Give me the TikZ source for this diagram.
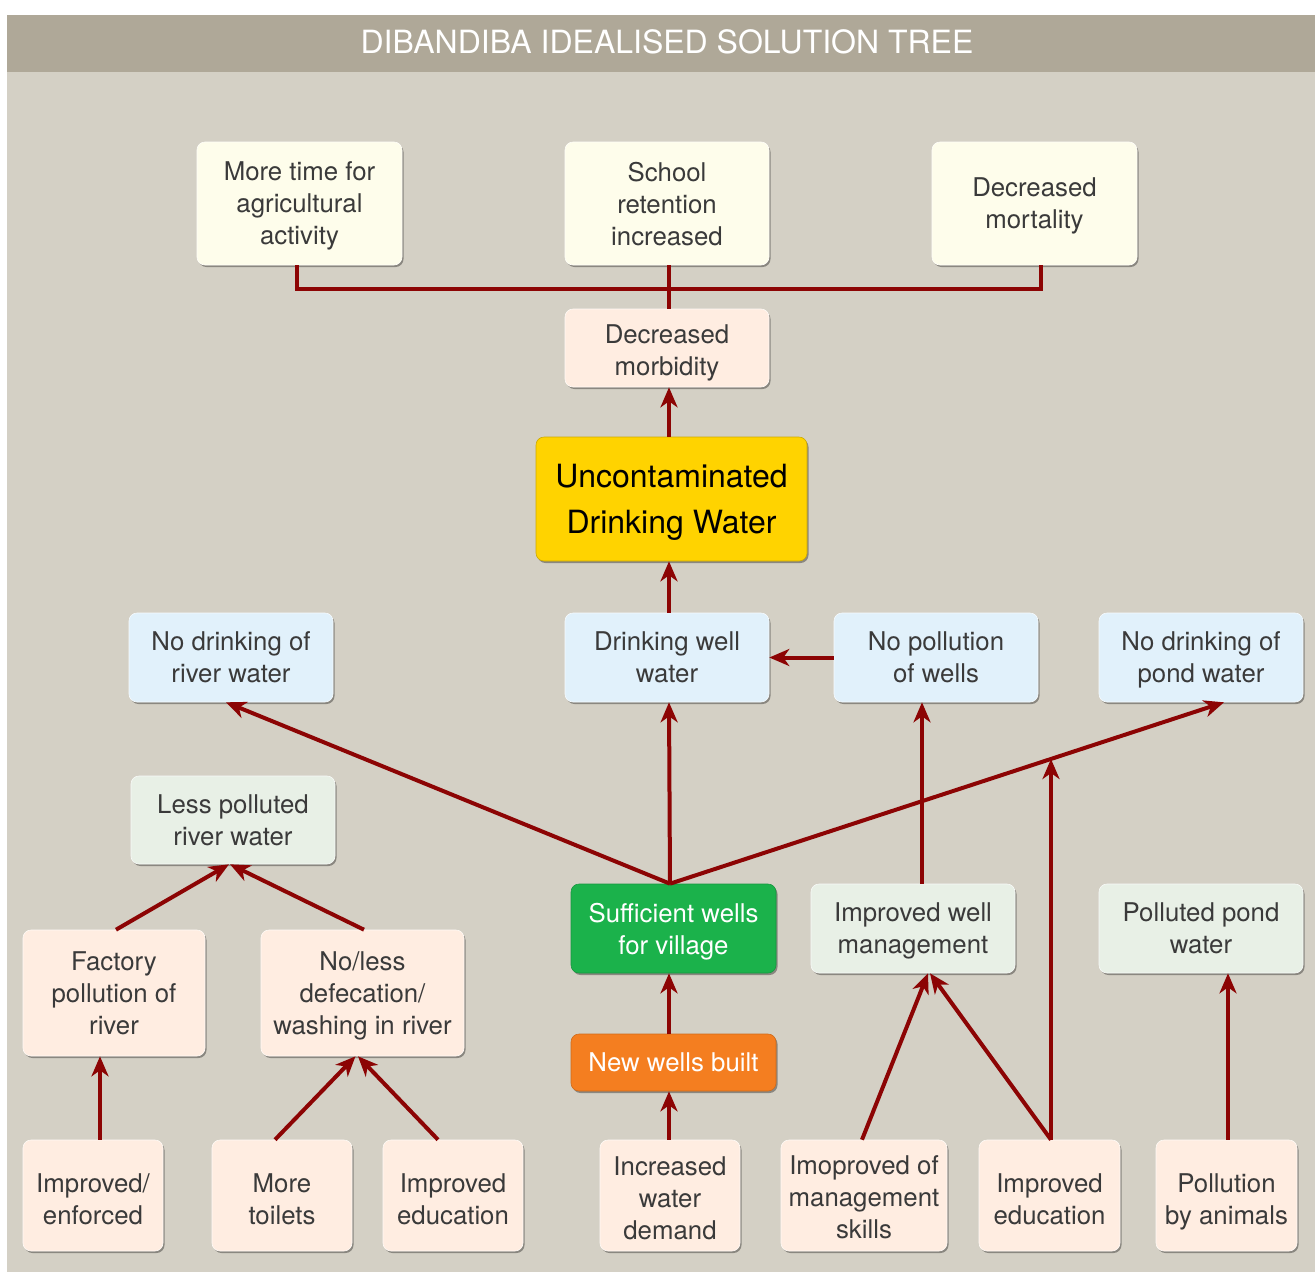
\documentclass[tikz,border=0pt]{standalone}
\usepackage{fontspec}
\setmainfont{TeX Gyre Heros}
\usetikzlibrary{arrows.meta,shadows}

\definecolor{panel}{HTML}{D4D0C5}
\definecolor{header}{HTML}{AFA898}
\definecolor{linkred}{HTML}{8C0404}
\definecolor{cream}{HTML}{FEFDEB}
\definecolor{peach}{HTML}{FFEDE1}
\definecolor{skyblue}{HTML}{E1F1FB}
\definecolor{mint}{HTML}{E8F0E6}
\definecolor{goalyellow}{HTML}{FFD300}
\definecolor{wellgreen}{HTML}{1BB24B}
\definecolor{buildorange}{HTML}{F47E20}
\definecolor{ink}{HTML}{3A3A3A}

% centred lines of text whose box ends at the last baseline, so that the
% block is centred from cap height to baseline; the optional extra height
% on top moves the block down by half of it
\newcommand{\tx}[2][0pt]{\raisebox{0pt}[\dimexpr\height+#1\relax][0pt]{\vbox{\let\\\cr\halign{\hfil##\hfil\cr#2\crcr}}}}

\tikzset{
  box/.style={rectangle, rounded corners=8pt, inner sep=0pt,
    font=\fontsize{25.8}{32}\selectfont, text=ink,
    draw=white!70!#1, line width=0.6pt, fill=#1,
    drop shadow={shadow xshift=1.5pt, shadow yshift=-2pt, fill=black, opacity=0.35}},
  sz/.style 2 args={minimum width=#1pt, minimum height=#2pt},
  link/.style={draw=linkred, line width=4pt},
  arrow/.style={link, -{Stealth[length=20pt, width=17pt, inset=6pt]}},
}

\begin{document}
\begin{tikzpicture}[x=1pt, y=-1pt]
\useasboundingbox (0,0) rectangle (1315,1275);
\fill[panel] (7,15) rectangle (1315,1272);
\fill[header] (7,15) rectangle (1315,72);
\node[text=white, font=\fontsize{32}{38}\selectfont] (title) at (667,42) {DIBANDIBA IDEALISED SOLUTION TREE};

% outcomes
\node[box=cream, sz={205}{123}] (a1) at (299.5,203.5) {\tx{More time for\\agricultural\\activity}};
\node[box=cream, sz={204}{123}] (a2) at (667,203.5) {\tx{School\\retention\\increased}};
\node[box=cream, sz={205}{123}] (a3) at (1034.5,203.5) {\tx{Decreased\\mortality}};
\node[box=peach, sz={204}{78}] (morb) at (667,348) {\tx[4pt]{Decreased\\morbidity}};

% goal
\node[box=goalyellow, sz={271}{124}, text=black, draw=goalyellow!80!black,
      font=\fontsize{32}{46}\selectfont] (goal) at (671.5,499) {\tx{Uncontaminated\\Drinking Water}};

% means
\node[box=skyblue, sz={204}{89}] (riv) at (231,657.5) {\tx{No drinking of\\river water}};
\node[box=skyblue, sz={204}{89}] (well) at (667,657.5) {\tx{Drinking well\\water}};
\node[box=skyblue, sz={204}{89}] (nopol) at (936,657.5) {\tx{No pollution\\of wells}};
\node[box=skyblue, sz={204}{89}] (pond) at (1201,657.5) {\tx{No drinking of\\pond water}};

\node[box=mint, sz={204}{88}] (less) at (233,820) {\tx{Less polluted\\river water}};
\node[box=wellgreen, sz={205}{89}, text=white, draw=wellgreen!85!black] (suff) at (673.5,928.5) {\tx{Sufficient wells\\for village}};
\node[box=mint, sz={204}{89}] (mgmt) at (913,928.5) {\tx{Improved well\\management}};
\node[box=mint, sz={204}{89}] (ppond) at (1201,928.5) {\tx{Polluted pond\\water}};

\node[box=peach, sz={182}{126}] (fact) at (114,993) {\tx{Factory\\pollution of\\river}};
\node[box=peach, sz={203}{126}] (defec) at (362.5,993) {\tx{No/less\\defecation/\\washing in river}};
\node[box=buildorange, sz={205}{57}, text=white, draw=buildorange!85!black] (neww) at (673.5,1062.5) {\tx{New wells built}};

% root actions
\node[box=peach, sz={140}{111}] (b1) at (93,1195.5) {\tx[7pt]{Improved/\\enforced}};
\node[box=peach, sz={140}{111}] (b2) at (282,1195.5) {\tx[7pt]{More\\toilets}};
\node[box=peach, sz={140}{111}] (b3) at (453,1195.5) {\tx[7pt]{Improved\\education}};
\node[box=peach, sz={140}{111}] (b4) at (670,1195.5) {\tx[6pt]{Increased\\water\\demand}};
\node[box=peach, sz={166}{111}] (b5) at (864,1195.5) {\tx[4pt]{Imoproved of\\management\\skills}};
\node[box=peach, sz={141}{111}] (b6) at (1049.5,1195.5) {\tx[7pt]{Improved\\education}};
\node[box=peach, sz={141}{111}] (b7) at (1226.5,1195.5) {\tx[7pt]{Pollution\\by animals}};

% outcome bracket
\draw[link] ([xshift=-2.5]a1.south) -- ++(0,24) -| ([xshift=6.5]a3.south);
\draw[link] ([xshift=2]a2.south) -- ([xshift=2]morb.north);

% upward links
\draw[arrow] ([xshift=-2.5]goal.north) -- ([xshift=2]morb.south);
\draw[arrow] ([xshift=2]well.north) -- ([xshift=-2.5]goal.south);
\draw[arrow] (nopol.west) -- (well.east);

\coordinate (hub) at ([xshift=-3.5]suff.north);
\draw[arrow] (hub) -- ([xshift=-5]riv.south);
\draw[arrow] (hub) -- ([xshift=2]well.south);
\draw[arrow] (hub) -- ([xshift=23]pond.south);

\draw[arrow] ([xshift=9]mgmt.north) -- ([xshift=-14]nopol.south);
\coordinate (merge) at (1051,759);
\draw[arrow] ([xshift=1.5]b6.north) -- (merge);
\draw[arrow] ([xshift=1.5]b6.north) -- ([xshift=17]mgmt.south);
\draw[arrow] ([xshift=-2]b5.north) -- ([xshift=15]mgmt.south);
\draw[arrow] ([xshift=1.5]b7.north) -- ([xshift=27]ppond.south);

\draw[arrow] ([xshift=-4.5]neww.north) -- ([xshift=-4.5]suff.south);
\draw[arrow] ([xshift=-1]b4.north) -- ([xshift=-4.5]neww.south);

\draw[arrow] ([xshift=2]fact.north) -- ([xshift=-4]less.south);
\draw[arrow] ([xshift=1.5]defec.north) -- ([xshift=-3]less.south);
\draw[arrow] ([xshift=7]b1.north) -- ([xshift=-14]fact.south);
\draw[arrow] ([xshift=-7]b2.north) -- ([xshift=-7]defec.south);
\draw[arrow] ([xshift=-15]b3.north) -- ([xshift=-4.5]defec.south);
\end{tikzpicture}
\end{document}
